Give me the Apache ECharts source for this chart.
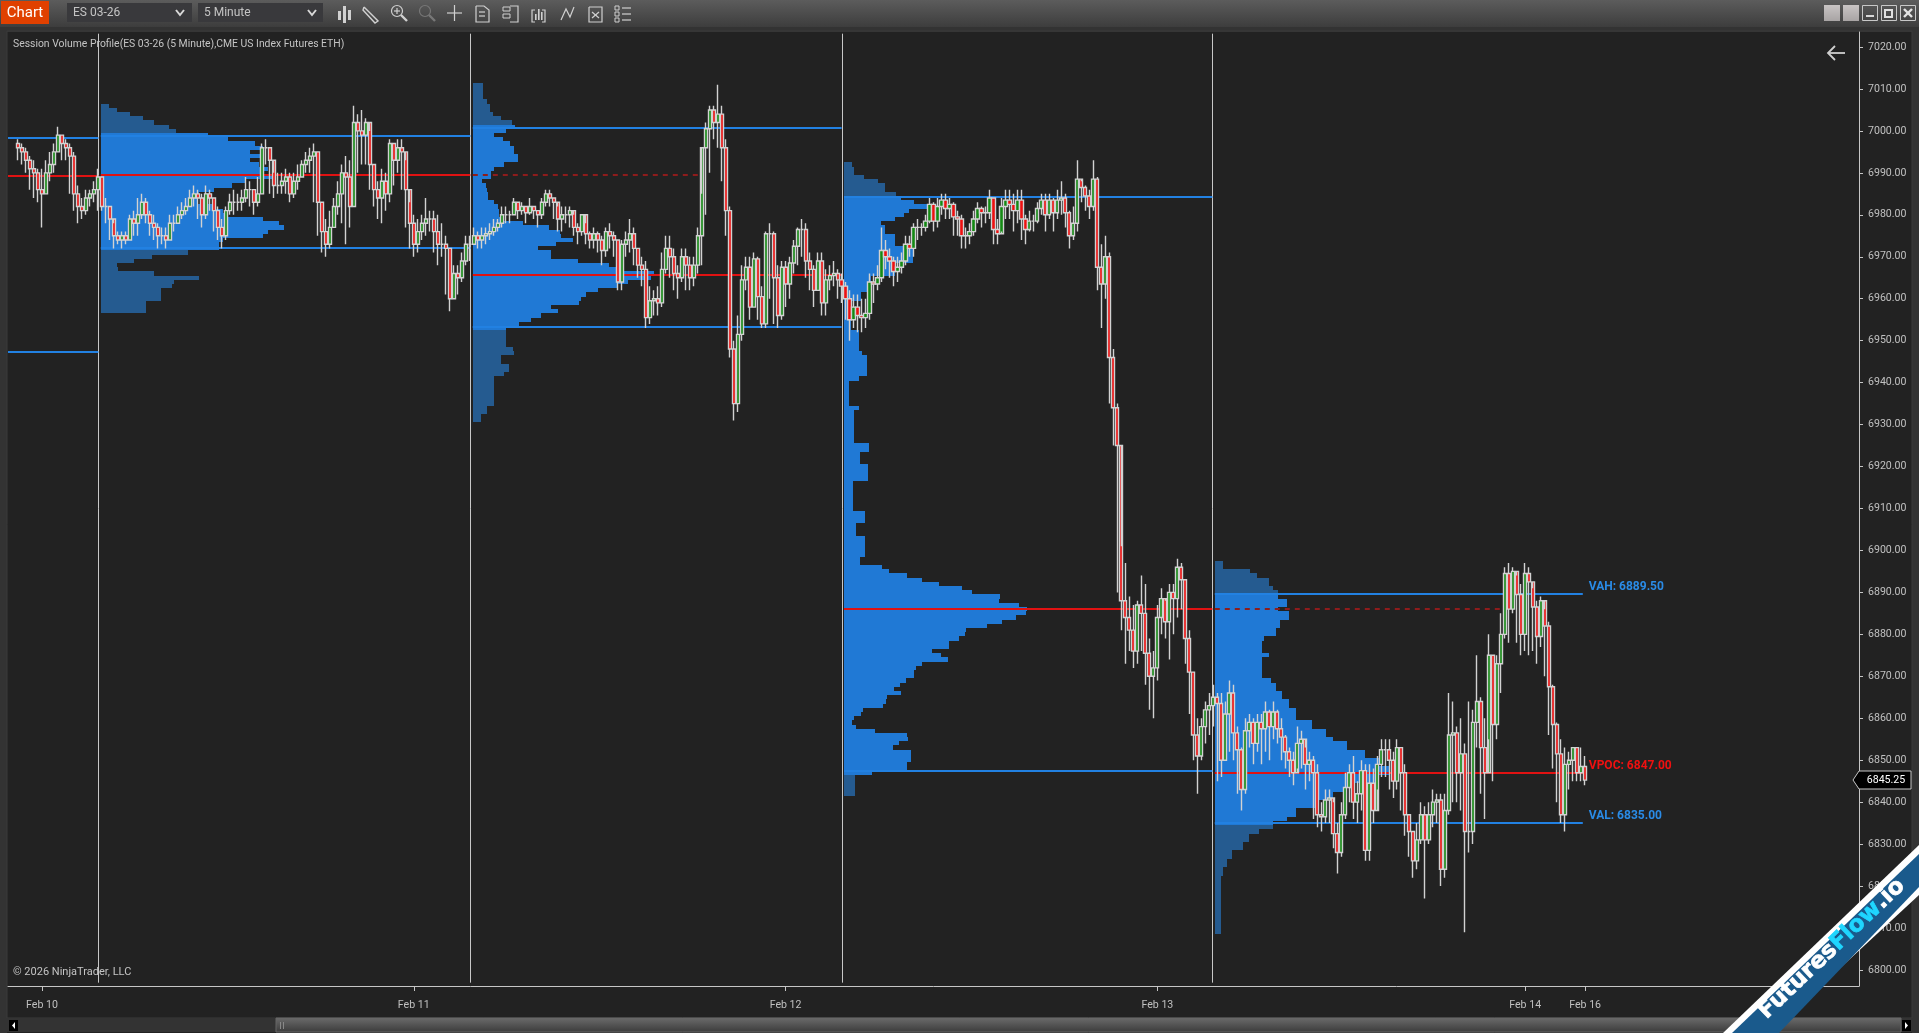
<!DOCTYPE html>
<html><head><meta charset="utf-8"><title>Session Volume Profile</title>
<style>html,body{margin:0;padding:0;background:#222;overflow:hidden}#c{width:1919px;height:1033px}</style>
<script src="https://cdn.jsdelivr.net/npm/echarts@6/dist/echarts.min.js"></script></head>
<body><div id="c"></div>
<script>
// ---- candles, one row block per session (last close = previous session close)
const closes=[
6996,6995,6993,6991,6990,6986,6985,6990,6992,6995,6999,6997,6996,6994,6985,6982,6981,6984,6985,6986,
6989,6982,6982,6979,6975,6974,6975,6974,6979,6978,6980,6983,6980,6978,6977,6975,6975,6974,6978,6978,
6980,6981,6982,6984,6985,6984,6980,6985,6984,6981,6977,6975,6981,6983,6983,6983,6984,6986,6986,6983,
6985,6996,6996,6993,6987,6987,6988,6989,6985,6988,6989,6992,6993,6994,6995,6983,6976,6973,6977,6982,
6985,6990,6989,6982,7002,7000,6999,7002,6992,6986,6984,6988,6985,6997,6993,6996,6995,6986,6978,6973,
6976,6978,6979,6979,6976,6973,6973,6972,6960,6966,6965,6969,6973,
6973,6975,6974,6975,6975.5,6976,6977,6978,6980,6980,6980,6983,6981,6982,6980.5,6982,6981,6980,6983,6985,
6984,6983,6979,6980,6980,6981,6977,6976,6980,6975.5,6974,6975.5,6974,6971.5,6976,6975,6974,6964,6973,6974,
6975.5,6972,6968,6967,6955.5,6959.5,6960,6959,6967,6972,6970,6966,6965,6970,6968,6965,6968,6975,6996,7000.5,
7005,7002,7004,6996,6981,6948,6935,6951.5,6964.5,6967.5,6958,6969.5,6960.5,6954,6975.5,6975.5,6965,6956,6967.5,6963.5,
6968.5,6972.5,6976.5,6976.5,6969,6967,6962,6969,6959,6964.5,6965.5,6966,6964.5,
6963,6960,6955,6958,6956,6955.5,6956.5,6964,6963.5,6965,6971.5,6970,6969,6966.5,6967.5,6969,6973,6972,6977,6977,
6977,6978.5,6982.5,6978.5,6982,6983.5,6981.5,6982.5,6979.5,6979,6975,6975,6976,6979,6981.5,6980.5,6980.5,6984,6976.5,6975.5,
6982,6983.5,6982.5,6981,6983.5,6979,6976.5,6978.5,6978.5,6981.5,6983.5,6980,6983.5,6980.5,6983.5,6984,6980.5,6975,6978,6988.5,
6986.5,6984.5,6982,6988.5,6967.5,6963.5,6970,6946,6934,6925,6888,6884,6881,6876,6887,6885,6875.5,6870,6872,6884,
6888.5,6883,6890,6888.5,6896,6893,6879,6871,6856,6851,6858,6862,6863,
6865,6863.5,6850,6861,6866,6856.5,6852.5,6843,6857,6859,6854,6859,6857.5,6861.5,6858,6861.5,6857.5,6855.5,6852,6850,
6847,6854,6855,6849,6850,6847,6837,6836.5,6840.5,6841,6832.5,6828,6837,6843.5,6847,6840,6842,6847.5,6828.5,6844.5,
6838,6849,6852.5,6852.5,6850,6845,6853,6847,6837,6833,6826,6831,6837,6831,6837,6840,6840.5,6824,6838,6856,
6856.5,6847,6851.5,6833,6833,6859,6864,6853,6847,6875,6858.5,6873,6880,6894.5,6886,6895,6889.5,6880,6894.5,6892.5,
6886.5,6879.5,6888,6882,6867.5,6858.5,6851.5,6837,6849,6850,6853,6847,6848.5,6845.25];
const highs=[
6998,6997,6996,6994,6993,6991,6991,6993,6995,6997,7001,6999,6998,6997,6995,6987,6984,6986,6986,6988,
6991,6989,6984,6982,6978,6976,6976,6976,6980,6981,6984,6985,6984,6981,6980,6978,6977,6977,6980,6980,
6982,6983,6984,6986,6987,6986,6985,6987,6986,6984,6982,6979,6982,6985,6986,6985,6986,6989,6988,6986,
6989,6997,6998,6996,6990,6990,6990,6991,6990,6990,6992,6993,6995,6996,6997,6995,6983,6979,6981,6984,
6988,6992,6994,6993,7006,7004,7005,7003,7000,6992,6988,6991,6990,6998,6997,6998,6998,6993,6983,6980,
6979,6980,6984,6981,6981,6980,6978,6975,6972,6968,6968,6971,6975,
6975,6977,6976,6977,6977,6978,6979,6979,6982,6982,6981,6984,6983,6983,6982,6984,6982,6981,6984,6986,
6986,6984,6982,6982,6982,6982,6980,6978,6980,6978,6976,6977,6976,6975,6977,6978,6976,6974,6974,6976,
6979,6977,6972,6970,6969,6963,6962,6963,6971,6975,6975,6972,6968,6972,6972,6970,6970,6977,6985,7002,
7006,7006,7011,7006,6998,6982,6950,6956,6968,6970,6970,6971,6970,6963,6976,6978,6976,6968,6969,6969,
6970,6974,6977,6979,6978,6971,6968,6971,6971,6967,6968,6969,6967,
6966,6964,6962,6961,6961,6960,6960,6966,6966,6968,6977,6974,6972,6970,6970,6971,6975,6975,6978,6979,
6978,6980,6984,6983,6984,6985,6985,6984,6983,6981,6980,6977,6978,6981,6983,6982,6982,6986,6984,6979,
6984,6986,6986,6985,6986,6986,6980,6981,6980,6983,6985,6985,6985,6984,6986,6988,6985,6981,6982,6993,
6988,6987,6986,6993,6989,6973,6975,6971,6948,6935,6901,6897,6889,6887,6888,6894,6892,6879,6876,6887,
6891,6888,6892,6892,6898,6897,6893,6881,6871,6860,6860,6864,6866,
6868,6866,6866,6864,6869,6868,6858,6853,6860,6861,6860,6861,6861,6864,6862,6864,6862,6860,6856,6853,
6852,6858,6857,6853,6852,6851,6849,6840,6843,6843,6840,6835,6840,6847,6849,6851,6845,6850,6849,6849,
6848,6851,6855,6855,6855,6852,6855,6853,6849,6837,6833,6835,6840,6839,6840,6843,6842,6842,6842,6866,
6864,6858,6860,6854,6864,6862,6875,6865,6860,6880,6875,6875,6885,6896,6897,6896,6894,6892,6897,6896,
6891,6888,6889,6886,6883,6868,6859,6855,6853,6852,6853,6853,6853,6851];
const lows=[
6993,6992,6990,6986,6984,6983,6977,6985,6988,6990,6995,6993,6993,6985,6981,6978,6979,6980,6982,6983,
6981,6981,6978,6974,6972,6973,6972,6973,6974,6975,6975,6979,6978,6975,6974,6972,6973,6972,6974,6976,
6978,6979,6980,6982,6982,6979,6977,6979,6981,6976,6974,6972,6974,6980,6980,6981,6981,6983,6982,6980,
6982,6985,6992,6985,6984,6985,6985,6985,6983,6984,6986,6989,6990,6990,6983,6975,6971,6970,6972,6977,
6980,6978,6973,6977,6982,6990,6992,6992,6986,6982,6979,6978,6981,6983,6987,6990,6986,6977,6972,6970,
6971,6974,6975,6976,6971,6968,6970,6961,6957,6960,6961,6964,6968,
6969,6973,6972,6972,6973,6974,6975,6976,6977,6978,6978,6980,6979,6980,6978,6980,6979,6977,6979,6982,
6982,6979,6976,6976,6978,6977,6975,6973,6975,6973,6972,6972,6971,6968,6970,6972,6970,6962,6962,6970,
6971,6968,6965,6963,6953,6954,6956,6956,6958,6966,6965,6962,6960,6964,6962,6962,6963,6966,6968,6980,
6990,6998,6996,6988,6975,6946,6931,6933,6950,6962,6955,6958,6955,6953,6953,6960,6954,6953,6955,6958,
6960,6966,6968,6970,6965,6962,6958,6962,6956,6956,6962,6963,6960,
6959,6955,6950,6953,6952,6952,6953,6955,6959,6962,6964,6967,6965,6963,6964,6966,6968,6970,6970,6974,
6975,6976,6978,6976,6977,6980,6979,6979,6975,6975,6972,6972,6973,6975,6978,6977,6978,6979,6973,6973,
6976,6979,6979,6976,6978,6974,6973,6976,6976,6978,6980,6976,6979,6976,6979,6980,6977,6972,6974,6976,
6983,6981,6979,6981,6962,6953,6960,6935,6925,6890,6881,6873,6876,6872,6873,6876,6868,6862,6860,6869,
6880,6879,6874,6880,6884,6886,6873,6861,6850,6842,6850,6854,6856,
6858,6845,6846,6850,6852,6850,6842,6838,6842,6853,6849,6852,6849,6852,6850,6855,6854,6850,6848,6846,
6844,6848,6848,6843,6845,6836,6834,6833,6835,6835,6829,6823,6827,6836,6840,6836,6835,6838,6826,6826,
6835,6843,6846,6846,6843,6841,6843,6838,6832,6827,6822,6824,6830,6817,6830,6834,6835,6820,6822,6837,
6840,6840,6838,6809,6828,6830,6853,6842,6836,6855,6845,6855,6866,6879,6878,6885,6878,6875,6876,6875,
6876,6873,6877,6870,6856,6848,6840,6835,6833,6843,6845,6845,6845,6844];
const firstBarSlot=2;
// ---- axis text
const yTicks=[7020,7010,7000,6990,6980,6970,6960,6950,6940,6930,6920,6910,6900,6890,6880,6870,6860,6850,6840,6830,6820,6810,6800];
const dateSlots=[8,101,194,287,379,394];
const dateLabels=['Feb 10','Feb 11','Feb 12','Feb 13','Feb 14','Feb 16'];
// ---- session profiles: relative volume per 1-point price row, from top price downward
const profileTops=[7006,7011,6992,6897];
const profile1=[8,16,29,42,53,68,75,107,127,154,162,149,163,149,158,167,162,174,145,131,113,98,96,96,113,122,127,162,178,183,167,162,122,118,118,87,51,33,16,17,53,98,73,71,60,60,60,45,45,45];
const profile2=[10,10,10,10,14,17,17,20,28,39,42,33,21,30,37,41,41,45,45,31,21,18,18,9,13,14,15,15,21,25,26,26,30,50,76,87,88,100,83,65,78,78,105,136,145,181,178,155,145,125,113,108,106,78,85,68,58,46,33,33,33,33,33,40,41,28,28,36,36,31,21,21,21,21,21,21,21,14,14,8,8];
const profile3=[8,10,10,20,34,41,41,52,57,70,87,65,60,51,37,41,41,51,51,51,69,69,69,69,51,51,51,27,27,27,27,17,17,7,7,7,7,7,7,7,15,15,15,15,15,18,23,23,23,23,23,15,5,5,5,5,5,5,15,10,10,10,10,10,10,10,10,25,25,16,16,16,24,24,24,24,9,9,9,9,9,9,9,21,21,21,12,12,12,21,21,21,21,21,16,16,38,45,63,78,95,118,128,156,155,175,183,182,172,158,143,122,121,115,105,105,88,97,104,78,72,70,70,62,56,50,57,43,42,39,19,17,10,8,12,31,63,64,55,49,67,67,67,63,63,28,11,11,11,11,11];
const profile4=[8,8,35,42,54,54,58,63,63,72,72,63,74,74,65,65,61,61,49,47,47,47,54,47,47,47,47,47,56,61,61,67,67,74,74,81,81,81,97,97,111,111,118,132,132,150,150,164,164,175,175,164,164,132,132,118,118,104,104,81,81,72,58,58,44,34,34,28,28,17,17,12,12,8,8,6,6,6,6,6,6,6,6,6,6,6,6,6,6];
const vah=[6998.8,7000.7,6984.2,6889.5];
const poc=[6989.5,6965.7,6886,6847];
const val=[6972.1,6953.3,6847.4,6835];
const priorLevels=[6998.4,6989.3,6947.4];
const lastPrice=6845.25;
// session starts and level ends, in bar slots
const sessionSlots=[22.6,115.6,208.4,301.1];
const levelEndSlots=[115.6,208.4,301.1,393.7];
const nakedPocEndSlots=[173.7,null,373.8,null];
const totalSlots=462.75;

const N=Math.ceil(totalSlots);
const categories=Array.from({length:N},(_,i)=>{const k=dateSlots.indexOf(i);return k>=0?dateLabels[k]:''});
const candleData=categories.map((_,i)=>{
  const k=i-firstBarSlot;
  if(k<0||k>=closes.length) return ['-','-','-','-'];
  return [k>0?closes[k-1]:closes[0]+1,closes[k],lows[k],highs[k]];
});
const profiles=[profile1,profile2,profile3,profile4];
const profileRows=[];
profiles.forEach((vols,s)=>vols.forEach((v,i)=>{
  const p=profileTops[s]-i;
  profileRows.push([sessionSlots[s]+0.6,p,v/4,(p<=vah[s]+0.4&&p>=val[s]-0.4)?1:0]);
}));
const BLUE='#2079d5',LINE='#2281e2',RED='#e01212';
const levelRows=[[0,sessionSlots[0],priorLevels[0],0,0],[0,sessionSlots[0],priorLevels[1],1,0],[0,sessionSlots[0],priorLevels[2],0,0]];
for(let s=0;s<4;s++){
  const a=sessionSlots[s]+0.6,b=levelEndSlots[s];
  levelRows.push([a,b,vah[s],0,0],[a,b,val[s],0,0],[a,b,poc[s],1,0]);
  if(nakedPocEndSlots[s]) levelRows.push([sessionSlots[s+1]+0.6,nakedPocEndSlots[s],poc[s],2,1]);
}
const labelRows=[[395.2,vah[3],'VAH: 6889.50','#2a8be6'],[395.2,poc[3],'VPOC: 6847.00','#f01010'],[395.2,val[3],'VAL: 6835.00','#2a8be6']];

const yMax=7023.58,yMin=6796.17;
const chart=echarts.init(document.getElementById('c'),null,{renderer:'canvas',width:1919,height:1033});
const G='#c6c6c6';
function r(x,y,w,h,fill,extra){return Object.assign({type:'rect',shape:{x,y,width:w,height:h},style:{fill},silent:true},extra||{})}
function pl(points,stroke,lw){return {type:'polyline',shape:{points},style:{stroke:stroke||'#d0d0d0',fill:null,lineWidth:lw||1.2},silent:true}}
function t(x,y,text,fill,font,extra){return Object.assign({type:'text',x,y,style:{text,fill,font,verticalAlign:'middle'},silent:true},extra||{})}
const grad=(a,b)=>new echarts.graphic.LinearGradient(0,0,0,1,[{offset:0,color:a},{offset:1,color:b}]);
const chrome=[
 r(0,0,1919,27,grad('#5c5c5c','#3d3d3d')),
 r(0,27,1919,5,'#333333'),
 r(0,27,7,1006,'#333333'),
 r(1912,27,7,1006,'#333333'),
 r(7,31,1905,987,'none',{style:{fill:'none',stroke:'#3b3b3b',lineWidth:1}}),
 r(1,1,48,23,'#e04000'),
 t(25,13,'Chart','#ffffff','15px "Open Sans"',{style:{text:'Chart',fill:'#fff',font:'15px "Roboto"',align:'center',verticalAlign:'middle'}}),
 r(67,3,125,19,'#39393c'),
 t(73,12.5,'ES 03-26','#c4c4c4','12px Roboto'),
 pl([[176,10],[180,15],[184,10]],'#d8d8d8',2),
 r(198,3,125,19,'#39393c'),
 t(204,12.5,'5 Minute','#c4c4c4','12px Roboto'),
 pl([[308,10],[312,15],[316,10]],'#d8d8d8',2),
 // toolbar icons
 r(338,11,3,9,'#d0d0d0'),r(343,6,3,17,'#d0d0d0'),r(348,10,3,10,'#d0d0d0'),
 pl([[364,7],[378,21],[375,23],[363,10],[364,7]],'#d0d0d0',1.4),
 {type:'circle',shape:{cx:397,cy:11,r:5.5},style:{fill:null,stroke:'#d0d0d0',lineWidth:1.2},silent:true},pl([[401,15],[407,21]],'#d0d0d0',2.4),pl([[394,11],[400,11]]),pl([[397,8],[397,14]]),
 {type:'circle',shape:{cx:425,cy:11,r:5.5},style:{fill:null,stroke:'#777',lineWidth:1.2},silent:true},pl([[429,15],[435,21]],'#777',2.4),
 pl([[447,13],[462,13]],'#d0d0d0',1.2),pl([[454.5,5],[454.5,21]],'#d0d0d0',1.2),
 pl([[476,6],[484,6],[489,10],[489,22],[476,22],[476,6]]),pl([[479,12],[485,12]]),pl([[479,16],[485,16]]),
 pl([[510,6],[518,6],[518,22],[510,22]]),r(503,7,7,4,'none',{style:{fill:'none',stroke:'#d0d0d0'}}),r(503,14,7,4,'none',{style:{fill:'none',stroke:'#d0d0d0'}}),
 pl([[535,10],[532,10],[532,22],[535,22]]),pl([[542,10],[545,10],[545,22],[542,22]]),r(535,14,1.6,6,'#d0d0d0'),r(538,9,1.6,11,'#d0d0d0'),r(541,12,1.6,8,'#d0d0d0'),
 pl([[561,20],[566,9],[570,17],[574,7]]),
 pl([[589,7],[602,7],[602,22],[589,22],[589,7]]),pl([[592,12],[599,18]]),pl([[599,12],[592,18]]),
 r(615,6,4,4,'none',{style:{fill:'none',stroke:'#d0d0d0'}}),pl([[622,8],[631,8]]),r(615,12,4,4,'none',{style:{fill:'none',stroke:'#d0d0d0'}}),pl([[622,14],[631,14]]),r(615,18,4,4,'none',{style:{fill:'none',stroke:'#d0d0d0'}}),pl([[622,20],[631,20]]),
 // window buttons
 r(1824,5,16,16,grad('#c8c4c4','#a8a4a4')),r(1843,5,16,16,grad('#c8c4c4','#a8a4a4')),
 r(1862.5,5.5,15,15,'none',{style:{fill:'none',stroke:'#c8c8c8'}}),r(1866,15,8,2,'#d8d8d8'),
 r(1881.5,5.5,15,15,'none',{style:{fill:'none',stroke:'#c8c8c8'}}),r(1885,10,7,7,'none',{style:{fill:'none',stroke:'#e0e0e0',lineWidth:2}}),
 r(1900.5,5.5,15,15,'none',{style:{fill:'none',stroke:'#c8c8c8'}}),pl([[1904,9],[1912,17]],'#e4e4e4',2.4),pl([[1912,9],[1904,17]],'#e4e4e4',2.4),
 // panel text and back arrow
 t(13,44,'Session Volume Profile(ES 03-26 (5 Minute),CME US Index Futures ETH)','#c4c4c4','10.4px Roboto'),
 t(13,972,'© 2026 NinjaTrader, LLC','#c4c4c4','11px Roboto'),
 pl([[1845,53],[1828,53]],'#d0d0d0',1.8),pl([[1835,46],[1828,53],[1835,60]],'#d0d0d0',1.8),
 // scrollbar
 r(7,1018,1905,14,'#333333'),
 r(276,1018,1625,14,grad('#6a6a6a','#3c3c3c')),
 r(276,1018,1625,14,'none',{style:{fill:'none',stroke:'#666'}}),
 r(280,1022,1,7,'#888'),r(283,1022,1,7,'#888'),
 r(9,1020,9,11,'#000'),{type:'polygon',shape:{points:[[15,1022],[12,1025.5],[15,1029]]},style:{fill:'#fff'},silent:true},
 r(1902,1020,9,11,'#000'),{type:'polygon',shape:{points:[[1905,1022],[1908,1025.5],[1905,1029]]},style:{fill:'#fff'},silent:true},
 // ribbon
 {type:'polygon',z:100,shape:{points:[[1723,1033],[1919,845],[1919,895],[1770,1033]]},style:{fill:'#ffffff'},silent:true},
 {type:'polygon',z:101,shape:{points:[[1732,1033],[1919,854],[1919,887],[1779,1033]]},style:{fill:'#1a5a8c'},silent:true},
 {type:'text',z:102,x:1832,y:949,rotation:43.6*Math.PI/180,silent:true,originX:0,originY:0,
  style:{text:'{a|Futures}{b|Flow}{a|.io}',align:'center',verticalAlign:'middle',
   rich:{a:{fill:'#ffffff',stroke:'#ffffff',lineWidth:0.7,font:'bold 23px "DejaVu Sans"'},b:{fill:'#1fd6ff',stroke:'#1fd6ff',lineWidth:0.7,font:'bold 23px "DejaVu Sans"'}}}}
];
chart.setOption({
 animation:false,backgroundColor:'#222222',
 grid:{left:8,right:60,top:32,bottom:47,containLabel:false},
 tooltip:{show:false},
 xAxis:[
  {type:'category',data:categories,boundaryGap:true,
   axisLine:{show:true,onZero:false,lineStyle:{color:G,width:1}},
   axisTick:{show:true,alignWithLabel:true,length:5,interval:(i)=>dateSlots.includes(i),lineStyle:{color:G}},
   axisLabel:{show:true,interval:(i)=>dateSlots.includes(i),color:'#c0c0c0',fontFamily:'Roboto',fontSize:10.6,margin:14,hideOverlap:false},
   splitLine:{show:false}},
  {type:'value',min:0,max:totalSlots,show:false,splitLine:{show:false}}
 ],
 yAxis:{type:'value',position:'right',min:yMin,max:yMax,scale:true,
   axisLine:{show:true,onZero:false,lineStyle:{color:G,width:1}},
   axisTick:{show:true,length:4,customValues:yTicks,lineStyle:{color:G}},
   axisLabel:{show:true,customValues:yTicks,formatter:v=>v.toFixed(2),color:'#c0c0c0',fontFamily:'Roboto',fontSize:10.6,margin:9,padding:[2,0,0,0]},
   splitLine:{show:false}},
 series:[
  {type:'custom',name:'Volume profile',xAxisIndex:1,yAxisIndex:0,z:1,data:profileRows,encode:{x:0,y:1},
   renderItem(p,api){
    const a=api.coord([api.value(0),api.value(1)+0.5]),b=api.coord([api.value(0)+api.value(2),api.value(1)-0.5]);
    const y0=Math.round(a[1]),y1=Math.round(b[1]),x0=Math.round(a[0]),x1=Math.round(b[0]);
    return {type:'rect',shape:{x:x0,y:y0,width:x1-x0,height:y1-y0},style:{fill:api.value(3)?BLUE:'#255b90'}};
   }},
  {type:'custom',name:'Session lines',xAxisIndex:1,yAxisIndex:0,z:2,data:sessionSlots.map(s=>[s,yMax-0.4,yMin+0.8]),encode:{x:0,y:[1,2]},
   renderItem(p,api){
    const a=api.coord([api.value(0),api.value(1)]),b=api.coord([api.value(0),api.value(2)]);
    return {type:'line',shape:{x1:Math.round(a[0])+0.5,y1:a[1],x2:Math.round(a[0])+0.5,y2:b[1]},style:{stroke:'#c8c8c8',lineWidth:1}};
   }},
  {type:'custom',name:'Levels',xAxisIndex:1,yAxisIndex:0,z:3,data:levelRows,encode:{x:[0,1],y:2},
   renderItem(p,api){
    const a=api.coord([api.value(0),api.value(2)]),b=api.coord([api.value(1),api.value(2)]),k=api.value(3);
    const stroke=k===0?LINE:(k===1?RED:'#8e1c1c');
    return {type:'line',shape:{x1:a[0],y1:Math.round(a[1]),x2:b[0],y2:Math.round(a[1])},
     style:{stroke,lineWidth:2,lineDash:api.value(4)?[5,5]:null}};
   }},
  {type:'candlestick',name:'ES 03-26',xAxisIndex:0,yAxisIndex:0,z:4,data:candleData,barWidth:3.6,large:false,progressive:0,
   itemStyle:{color:'#148a14',color0:'#ee1010',borderColor:'#d2d2d2',borderColor0:'#d2d2d2',borderWidth:1.4}},
  {type:'custom',name:'Level labels',xAxisIndex:1,yAxisIndex:0,z:5,data:labelRows,encode:{x:0,y:1},
   renderItem(p,api){
    const c=api.coord([api.value(0),api.value(1)]),row=labelRows[p.dataIndex];
    return {type:'text',x:c[0],y:c[1]-7,style:{text:row[2],fill:row[3],font:'bold 12px Roboto',verticalAlign:'middle'}};
   }},
  {type:'custom',name:'Last price',xAxisIndex:1,yAxisIndex:0,z:6,clip:false,data:[[totalSlots,lastPrice]],encode:{x:0,y:1},
   renderItem(p,api){
    const c=api.coord([api.value(0),api.value(1)]),x=c[0],y=Math.round(c[1]);
    return {type:'group',children:[
     {type:'polygon',shape:{points:[[x-6,y],[x,y-9],[x+52,y-9],[x+52,y+9],[x,y+9]]},style:{fill:'#000',stroke:'#c8c8c8',lineWidth:1}},
     {type:'text',x:x+27,y,style:{text:lastPrice.toFixed(2),fill:'#fff',font:'10.6px Roboto',align:'center',verticalAlign:'middle'}}
    ]};
   }}
 ],
 graphic:{elements:chrome}
});
</script></body></html>
